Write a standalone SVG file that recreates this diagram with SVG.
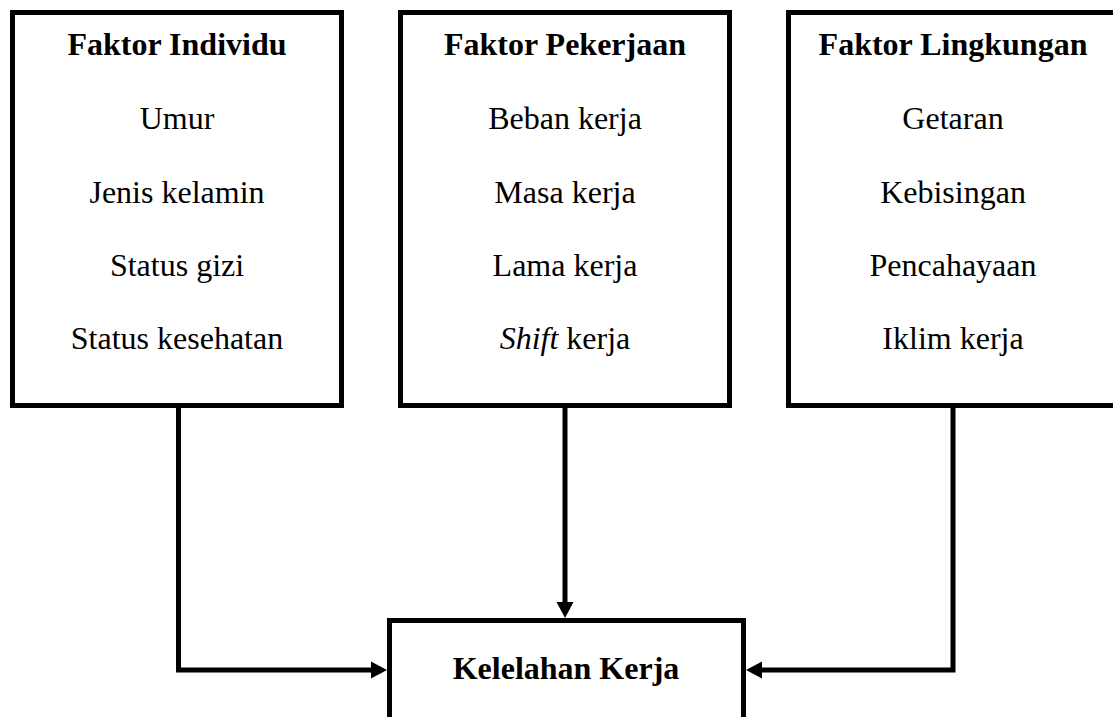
<svg xmlns="http://www.w3.org/2000/svg" width="1113" height="717" viewBox="0 0 1113 717">
<style>
.box{fill:#fff;stroke:#000;stroke-width:5}
.t{font-family:"Liberation Serif","Times New Roman",serif;font-size:32px;fill:#000;text-anchor:middle}
.b{font-weight:bold}
.c{fill:none;stroke:#000;stroke-width:5}
</style>
<defs>
<marker id="ah" markerUnits="userSpaceOnUse" markerWidth="16" markerHeight="18" viewBox="0 0 16 18" refX="4" refY="9" orient="auto">
<path d="M0,0.5 L16,9 L0,17.5 z" fill="#000"/>
</marker>
</defs>
<rect width="1113" height="717" fill="#fff"/>
<g id="connectors">
<path class="c" d="M178.5,406 V670 H375" marker-end="url(#ah)"/>
<path class="c" d="M565,406 V606" marker-end="url(#ah)"/>
<path class="c" d="M953,406 V670 H758" marker-end="url(#ah)"/>
</g>
<g id="faktor-individu">
<rect class="box" x="12.5" y="12.5" width="329" height="393"/>
<text class="t b" x="177" y="55">Faktor Individu</text>
<text class="t" x="177" y="129">Umur</text>
<text class="t" x="177" y="203">Jenis kelamin</text>
<text class="t" x="177" y="276">Status gizi</text>
<text class="t" x="177" y="349">Status kesehatan</text>
</g>
<g id="faktor-pekerjaan">
<rect class="box" x="400.5" y="12.5" width="329" height="393"/>
<text class="t b" x="565" y="55">Faktor Pekerjaan</text>
<text class="t" x="565" y="129">Beban kerja</text>
<text class="t" x="565" y="203">Masa kerja</text>
<text class="t" x="565" y="276">Lama kerja</text>
<text class="t" x="565" y="349"><tspan font-style="italic">Shift</tspan> kerja</text>
</g>
<g id="faktor-lingkungan">
<rect class="box" x="788.5" y="12.5" width="329" height="393"/>
<text class="t b" x="953" y="55">Faktor Lingkungan</text>
<text class="t" x="953" y="129">Getaran</text>
<text class="t" x="953" y="203">Kebisingan</text>
<text class="t" x="953" y="276">Pencahayaan</text>
<text class="t" x="953" y="349">Iklim kerja</text>
</g>
<g id="kelelahan-kerja">
<rect class="box" x="389.5" y="620.5" width="354" height="120"/>
<text class="t b" x="566" y="679">Kelelahan Kerja</text>
</g>
</svg>
